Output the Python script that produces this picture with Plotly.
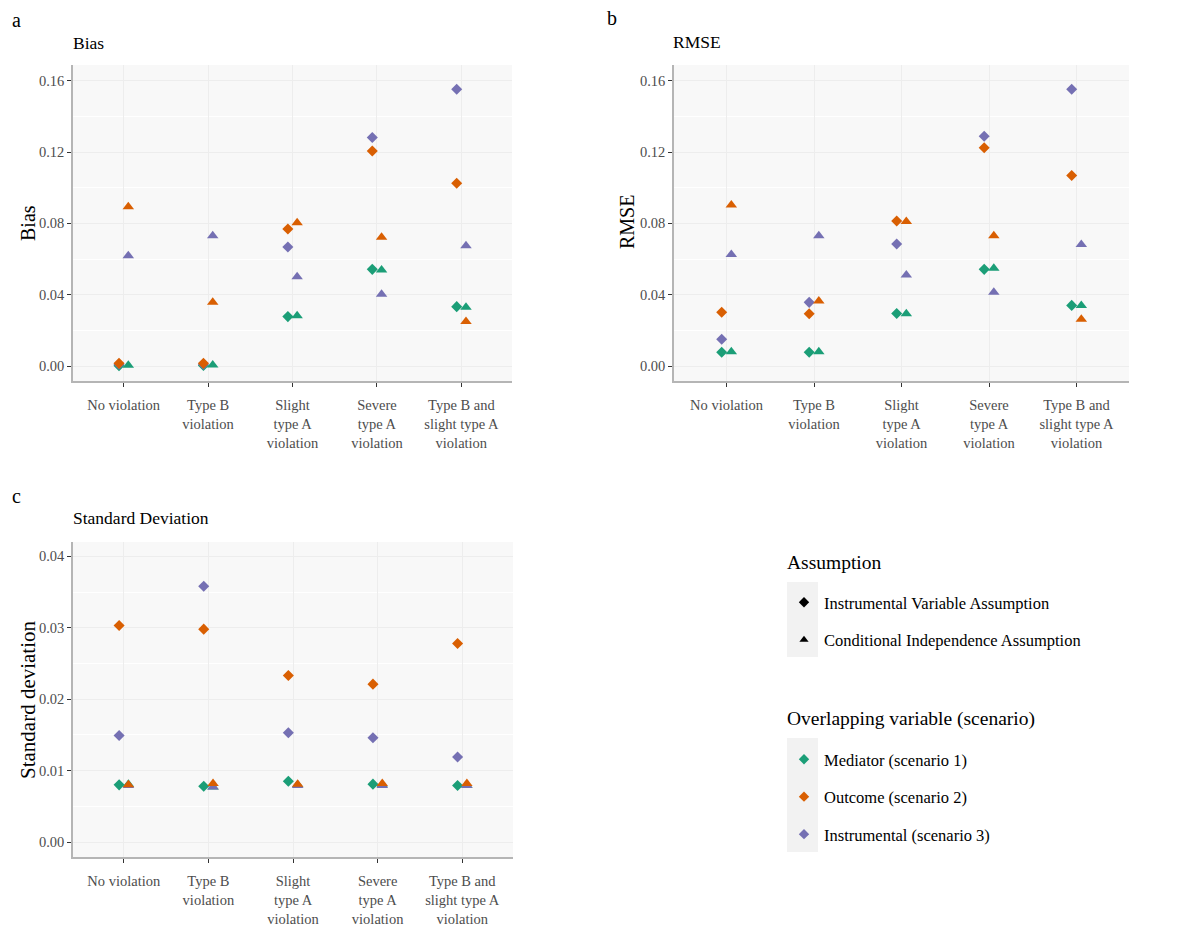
import plotly.graph_objects as go

# ---- categories -------------------------------------------------------
categories = [
    "No violation",
    "Type B<br>violation",
    "Slight<br>type A<br>violation",
    "Severe<br>type A<br>violation",
    "Type B and<br>slight type A<br>violation",
]

scenarios = ["Mediator (scenario 1)", "Outcome (scenario 2)", "Instrumental (scenario 3)"]
assumptions = ["Instrumental Variable Assumption", "Conditional Independence Assumption"]

# ---- Bias --------------------------------------------------------------
bias_iv_mediator = [0.0002, 0.0003, 0.0277, 0.0542, 0.0333]
bias_iv_outcome = [0.0015, 0.0015, 0.0768, 0.1206, 0.1025]
bias_iv_instrumental = [0.0010, 0.0010, 0.0667, 0.1281, 0.1552]
bias_ci_mediator = [0.0005, 0.0006, 0.0282, 0.0538, 0.0329]
bias_ci_outcome = [0.0893, 0.0357, 0.0804, 0.0722, 0.0249]
bias_ci_instrumental = [0.0619, 0.0731, 0.0501, 0.0402, 0.0675]

# ---- RMSE --------------------------------------------------------------
rmse_iv_mediator = [0.0077, 0.0077, 0.0295, 0.0542, 0.0340]
rmse_iv_outcome = [0.0301, 0.0293, 0.0813, 0.1224, 0.1068]
rmse_iv_instrumental = [0.0150, 0.0357, 0.0684, 0.1288, 0.1552]
rmse_ci_mediator = [0.0080, 0.0080, 0.0293, 0.0548, 0.0340]
rmse_ci_outcome = [0.0903, 0.0365, 0.0811, 0.0731, 0.0262]
rmse_ci_instrumental = [0.0626, 0.0731, 0.0510, 0.0413, 0.0682]

# ---- Standard deviation -------------------------------------------------
sd_iv_mediator = [0.0080, 0.0078, 0.0085, 0.0081, 0.0079]
sd_iv_outcome = [0.0303, 0.0298, 0.0233, 0.0221, 0.0278]
sd_iv_instrumental = [0.0149, 0.0358, 0.0153, 0.0146, 0.0119]
sd_ci_mediator = [0.0081, 0.0077, 0.0080, 0.0080, 0.0079]
sd_ci_outcome = [0.0080, 0.0082, 0.0081, 0.0082, 0.0082]
sd_ci_instrumental = [0.0079, 0.0077, 0.0079, 0.0079, 0.0079]

COLORS = {"Mediator (scenario 1)": "#1B9E77",
          "Outcome (scenario 2)": "#D95F02",
          "Instrumental (scenario 3)": "#7570B3"}
SYMBOLS = {"Instrumental Variable Assumption": "diamond",
           "Conditional Independence Assumption": "triangle-up"}
SIZES = {"diamond": 8.5, "triangle-up": 10}
DODGE = {"Instrumental Variable Assumption": -0.055,
         "Conditional Independence Assumption": 0.055}

FONT = "Liberation Serif, Times New Roman, serif"
W, H = 1180, 930

panels = [
    # (xaxis, yaxis, values by (scenario, assumption))
    ("x", "y", {
        ("Mediator (scenario 1)", assumptions[0]): bias_iv_mediator,
        ("Outcome (scenario 2)", assumptions[0]): bias_iv_outcome,
        ("Instrumental (scenario 3)", assumptions[0]): bias_iv_instrumental,
        ("Mediator (scenario 1)", assumptions[1]): bias_ci_mediator,
        ("Outcome (scenario 2)", assumptions[1]): bias_ci_outcome,
        ("Instrumental (scenario 3)", assumptions[1]): bias_ci_instrumental,
    }),
    ("x2", "y2", {
        ("Mediator (scenario 1)", assumptions[0]): rmse_iv_mediator,
        ("Outcome (scenario 2)", assumptions[0]): rmse_iv_outcome,
        ("Instrumental (scenario 3)", assumptions[0]): rmse_iv_instrumental,
        ("Mediator (scenario 1)", assumptions[1]): rmse_ci_mediator,
        ("Outcome (scenario 2)", assumptions[1]): rmse_ci_outcome,
        ("Instrumental (scenario 3)", assumptions[1]): rmse_ci_instrumental,
    }),
    ("x3", "y3", {
        ("Mediator (scenario 1)", assumptions[0]): sd_iv_mediator,
        ("Outcome (scenario 2)", assumptions[0]): sd_iv_outcome,
        ("Instrumental (scenario 3)", assumptions[0]): sd_iv_instrumental,
        ("Mediator (scenario 1)", assumptions[1]): sd_ci_mediator,
        ("Outcome (scenario 2)", assumptions[1]): sd_ci_outcome,
        ("Instrumental (scenario 3)", assumptions[1]): sd_ci_instrumental,
    }),
]

fig = go.Figure()

# draw order: mediator, instrumental, outcome (outcome on top)
draw_order = ["Mediator (scenario 1)", "Instrumental (scenario 3)", "Outcome (scenario 2)"]
for xa, ya, vals in panels:
    for sc in draw_order:
        for asm in assumptions:
            y = vals[(sc, asm)]
            x = [i + DODGE[asm] for i in range(len(categories))]
            sym = SYMBOLS[asm]
            fig.add_trace(go.Scatter(
                x=x, y=y, xaxis=xa, yaxis=ya, mode="markers",
                marker=dict(symbol=sym, size=SIZES[sym], color=COLORS[sc],
                            line=dict(width=0)),
                showlegend=False, name=f"{sc} - {asm}",
            ))

# legend key entries
for i, asm in enumerate(assumptions):
    fig.add_trace(go.Scatter(
        x=[None], y=[None], mode="markers", name=asm,
        marker=dict(symbol=SYMBOLS[asm], size=8, color="black"),
        legend="legend", legendgroup=f"a{i}", showlegend=True,
    ))
for i, sc in enumerate(scenarios):
    fig.add_trace(go.Scatter(
        x=[None], y=[None], mode="markers", name=sc,
        marker=dict(symbol="diamond", size=8, color=COLORS[sc]),
        legend="legend2", legendgroup=f"s{i}", showlegend=True,
    ))


def px_x(v):
    return v / W


def px_y(v):
    return 1 - v / H


PANEL_BG = "#F8F8F8"
xaxis_common = dict(
    tickmode="array", tickvals=list(range(len(categories))), ticktext=categories,
    range=[-0.6, len(categories) - 0.4], showgrid=True, gridcolor="#EDEDED", gridwidth=1,
    zeroline=False, showline=True, linecolor="#B5B5B5", linewidth=1.5,
    ticks="outside", ticklen=4, tickcolor="#333333", tickwidth=1,
    tickfont=dict(family=FONT, size=14.5, color="#4D4D4D"), ticklabelstandoff=6,
    fixedrange=True,
)
yaxis_common = dict(
    showgrid=True, gridcolor="#EDEDED", gridwidth=1, zeroline=False,
    showline=True, linecolor="#B5B5B5", linewidth=1.5,
    ticks="outside", ticklen=4, tickcolor="#333333", tickwidth=1,
    tickfont=dict(family=FONT, size=14.5, color="#4D4D4D"), tickformat=".2f",
    fixedrange=True,
)

legend_common = dict(
    xanchor="left", yanchor="top", bgcolor="rgba(0,0,0,0)", borderwidth=0,
    font=dict(family=FONT, size=16.5, color="black"),
    traceorder="grouped", tracegroupgap=13, itemclick=False, itemdoubleclick=False,
)

fig.update_layout(
    width=W, height=H, margin=dict(l=0, r=0, t=0, b=0),
    paper_bgcolor="white", plot_bgcolor=PANEL_BG,
    font=dict(family=FONT, color="black"),
    xaxis=dict(domain=[px_x(73), px_x(512)], anchor="y", **xaxis_common),
    yaxis=dict(domain=[px_y(381), px_y(65)], anchor="x", range=[-0.0084, 0.1688],
               tickvals=[0, 0.04, 0.08, 0.12, 0.16],
               minor=dict(tickvals=[0.02, 0.06, 0.10, 0.14], showgrid=True,
                          gridcolor="white", gridwidth=1, ticks=""),
               **yaxis_common),
    xaxis2=dict(domain=[px_x(674), px_x(1129)], anchor="y2", **xaxis_common),
    yaxis2=dict(domain=[px_y(381), px_y(65)], anchor="x2", range=[-0.0084, 0.1688],
                tickvals=[0, 0.04, 0.08, 0.12, 0.16],
                minor=dict(tickvals=[0.02, 0.06, 0.10, 0.14], showgrid=True,
                           gridcolor="white", gridwidth=1, ticks=""),
                **yaxis_common),
    xaxis3=dict(domain=[px_x(73), px_x(513)], anchor="y3", **xaxis_common),
    yaxis3=dict(domain=[px_y(857), px_y(542)], anchor="x3", range=[-0.0021, 0.0420],
                tickvals=[0, 0.01, 0.02, 0.03, 0.04],
                minor=dict(tickvals=[0.005, 0.015, 0.025, 0.035], showgrid=True,
                           gridcolor="white", gridwidth=1, ticks=""),
                **yaxis_common),
    legend=dict(x=px_x(784), y=px_y(585), **legend_common),
    legend2=dict(x=px_x(784), y=px_y(742), **legend_common),
)

# grey key backgrounds behind legend symbols
for y0, y1 in [(582, 657), (738, 852)]:
    fig.add_shape(type="rect", xref="paper", yref="paper",
                  x0=px_x(787), x1=px_x(818), y0=px_y(y1), y1=px_y(y0),
                  fillcolor="#F2F2F2", line=dict(width=0), layer="below")

# panel letters, titles, legend titles and axis titles
texts = [
    ("a", 10, 20, 20, 0, "left"),
    ("b", 605, 18, 20, 0, "left"),
    ("c", 10, 496, 20, 0, "left"),
    ("Bias", 71, 43, 17.5, 0, "left"),
    ("RMSE", 671, 42, 17.5, 0, "left"),
    ("Standard Deviation", 71, 518, 17.5, 0, "left"),
    ("Assumption", 785, 562, 19.5, 0, "left"),
    ("Overlapping variable (scenario)", 785, 719, 19.5, 0, "left"),
    ("Bias", 28, 223, 20, -90, "center"),
    ("RMSE", 627, 222, 20, -90, "center"),
    ("Standard deviation", 28, 700, 21, -90, "center"),
]
for txt, x, y, size, ang, xa in texts:
    fig.add_annotation(
        text=txt, x=px_x(x), y=px_y(y), xref="paper", yref="paper",
        xanchor=xa, yanchor="middle", showarrow=False, textangle=ang,
        font=dict(family=FONT, size=size, color="black"),
    )

fig.write_html("out.html")
